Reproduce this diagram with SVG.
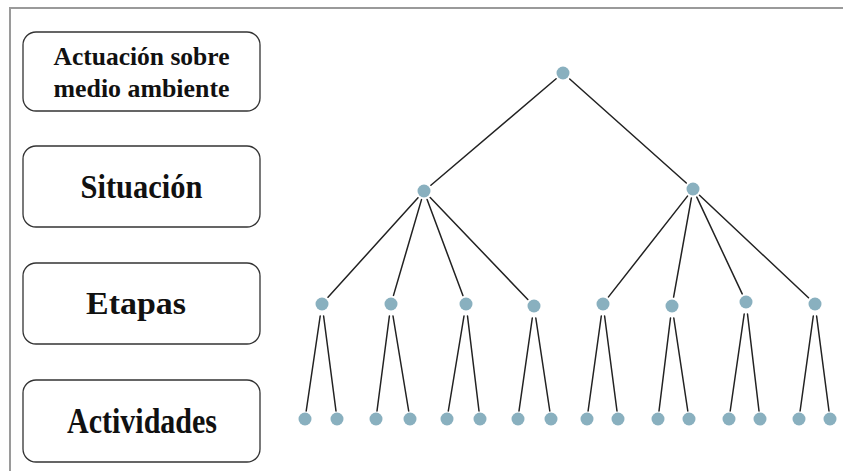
<svg xmlns="http://www.w3.org/2000/svg" width="843" height="471" viewBox="0 0 843 471">
  <style>
    .frame { fill: none; stroke: #9a9a9a; stroke-width: 2; }
    .box rect { fill: #ffffff; stroke: #333333; stroke-width: 1.3; }
    .box text { font-family: "Liberation Serif", "Times New Roman", serif; font-weight: bold; fill: #111111; text-anchor: middle; }
    .edge line { stroke: #222222; stroke-width: 1.5; stroke-linecap: round; }
    .node circle { fill: #89b0bf; }
  </style>

  <rect x="0" y="0" width="843" height="471" fill="#ffffff"/>

  <!-- frame: top and left rules -->
  <path class="frame" d="M10,471 V8 H843"/>

  <!-- level labels -->
  <g id="label-actuacion" class="box">
    <rect x="23" y="32" width="237" height="79" rx="13"/>
    <text x="141.5" y="65" font-size="26" textLength="176" lengthAdjust="spacingAndGlyphs">Actuación sobre</text>
    <text x="141.5" y="97" font-size="26" textLength="176" lengthAdjust="spacingAndGlyphs">medio ambiente</text>
  </g>
  <g id="label-situacion" class="box">
    <rect x="23" y="146" width="237" height="81" rx="13"/>
    <text x="141.5" y="198" font-size="33" textLength="122" lengthAdjust="spacingAndGlyphs">Situación</text>
  </g>
  <g id="label-etapas" class="box">
    <rect x="23" y="263" width="237" height="81" rx="13"/>
    <text x="136" y="314" font-size="32" textLength="100" lengthAdjust="spacingAndGlyphs">Etapas</text>
  </g>
  <g id="label-actividades" class="box">
    <rect x="23" y="380" width="237" height="82" rx="13"/>
    <text x="142" y="433" font-size="35" textLength="150" lengthAdjust="spacingAndGlyphs">Actividades</text>
  </g>

  <!-- connectors -->
  <g id="connectors" class="edge">
    <line x1="556.1" y1="78.8" x2="430.9" y2="185.2"/>
    <line x1="569.7" y1="79.0" x2="686.3" y2="183.0"/>

    <line x1="418.0" y1="197.7" x2="328.0" y2="297.3"/>
    <line x1="421.5" y1="199.6" x2="393.5" y2="295.4"/>
    <line x1="427.1" y1="199.4" x2="462.9" y2="295.6"/>
    <line x1="430.2" y1="197.5" x2="527.8" y2="299.5"/>

    <line x1="687.5" y1="196.1" x2="608.5" y2="296.9"/>
    <line x1="691.4" y1="197.9" x2="673.6" y2="297.1"/>
    <line x1="696.8" y1="197.1" x2="742.2" y2="293.9"/>
    <line x1="699.5" y1="195.2" x2="808.5" y2="297.8"/>

    <line x1="320.2" y1="316" x2="306.2" y2="411"/>
    <line x1="323.6" y1="316" x2="336" y2="411"/>
    <line x1="389.4" y1="316" x2="377" y2="411"/>
    <line x1="393" y1="316" x2="408.7" y2="411"/>
    <line x1="464" y1="316" x2="448.3" y2="411"/>
    <line x1="467.5" y1="316" x2="479" y2="411"/>
    <line x1="532.3" y1="318" x2="519" y2="411"/>
    <line x1="535.8" y1="318" x2="549.8" y2="411"/>
    <line x1="601.3" y1="316" x2="588.1" y2="411"/>
    <line x1="604.6" y1="316" x2="617" y2="411"/>
    <line x1="670.5" y1="318" x2="659" y2="411"/>
    <line x1="673.8" y1="318" x2="687.8" y2="411"/>
    <line x1="744.2" y1="314" x2="730.2" y2="411"/>
    <line x1="747.5" y1="314" x2="759" y2="411"/>
    <line x1="813.3" y1="316" x2="800.1" y2="411"/>
    <line x1="816.6" y1="316" x2="829" y2="411"/>
  </g>

  <!-- tree nodes -->
  <g id="n-root" class="node"><circle cx="563" cy="73" r="6.5"/></g>

  <g id="n-s1" class="node"><circle cx="424" cy="191" r="6.5"/></g>
  <g id="n-s2" class="node"><circle cx="693" cy="189" r="6.5"/></g>

  <g id="n-e1" class="node"><circle cx="322" cy="304" r="6.5"/></g>
  <g id="n-e2" class="node"><circle cx="391" cy="304" r="6.5"/></g>
  <g id="n-e3" class="node"><circle cx="466" cy="304" r="6.5"/></g>
  <g id="n-e4" class="node"><circle cx="534" cy="306" r="6.5"/></g>
  <g id="n-e5" class="node"><circle cx="603" cy="304" r="6.5"/></g>
  <g id="n-e6" class="node"><circle cx="672" cy="306" r="6.5"/></g>
  <g id="n-e7" class="node"><circle cx="746" cy="302" r="6.5"/></g>
  <g id="n-e8" class="node"><circle cx="815" cy="304" r="6.5"/></g>

  <g id="n-a1" class="node"><circle cx="305" cy="419" r="6.5"/></g>
  <g id="n-a2" class="node"><circle cx="337" cy="419" r="6.5"/></g>
  <g id="n-a3" class="node"><circle cx="376" cy="419" r="6.5"/></g>
  <g id="n-a4" class="node"><circle cx="410" cy="419" r="6.5"/></g>
  <g id="n-a5" class="node"><circle cx="447" cy="419" r="6.5"/></g>
  <g id="n-a6" class="node"><circle cx="480" cy="419" r="6.5"/></g>
  <g id="n-a7" class="node"><circle cx="518" cy="419" r="6.5"/></g>
  <g id="n-a8" class="node"><circle cx="551" cy="419" r="6.5"/></g>
  <g id="n-a9" class="node"><circle cx="587" cy="419" r="6.5"/></g>
  <g id="n-a10" class="node"><circle cx="618" cy="419" r="6.5"/></g>
  <g id="n-a11" class="node"><circle cx="658" cy="419" r="6.5"/></g>
  <g id="n-a12" class="node"><circle cx="689" cy="419" r="6.5"/></g>
  <g id="n-a13" class="node"><circle cx="729" cy="419" r="6.5"/></g>
  <g id="n-a14" class="node"><circle cx="760" cy="419" r="6.5"/></g>
  <g id="n-a15" class="node"><circle cx="799" cy="419" r="6.5"/></g>
  <g id="n-a16" class="node"><circle cx="830" cy="419" r="6.5"/></g>
</svg>
